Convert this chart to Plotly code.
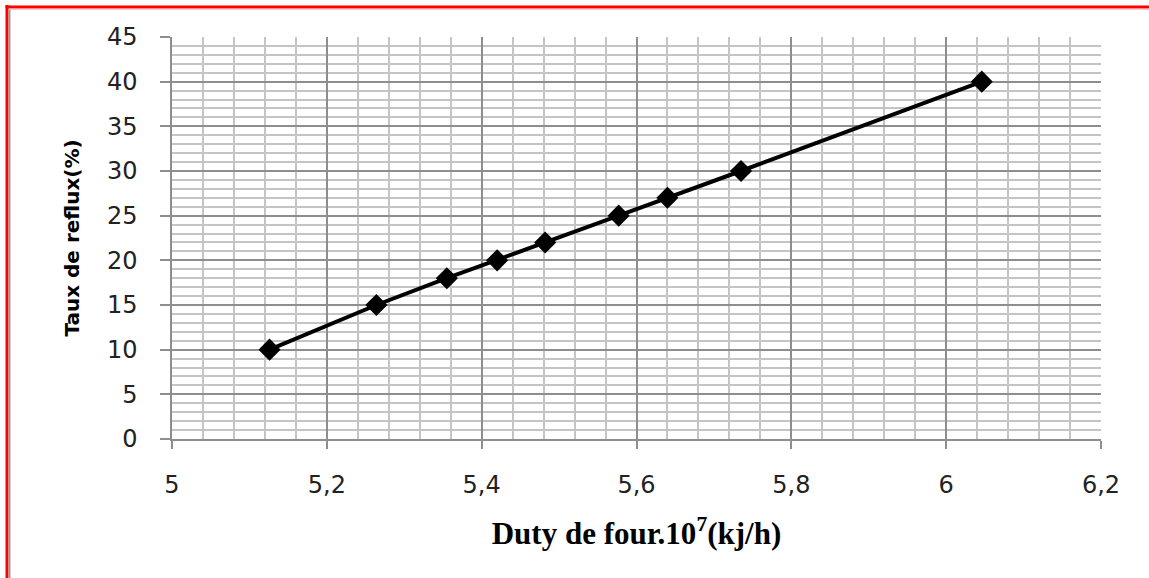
import plotly.graph_objects as go

# Data
duty = [5.126, 5.264, 5.355, 5.420, 5.482, 5.577, 5.640, 5.735, 6.046]
reflux = [10, 15, 18, 20, 22, 25, 27, 30, 40]
x_ticks = [5.0, 5.2, 5.4, 5.6, 5.8, 6.0, 6.2]
x_tick_labels = ["5", "5,2", "5,4", "5,6", "5,8", "6", "6,2"]
y_ticks = [0, 5, 10, 15, 20, 25, 30, 35, 40, 45]

W, H = 1149, 578
L, R, T, B = 172, 48, 37, 139
PW, PH = W - L - R, H - T - B


def px(x):
    return (x - L) / PW


def py(y):
    return (H - B - y) / PH


fig = go.Figure()
fig.add_trace(go.Scatter(
    x=duty, y=reflux, mode="lines+markers",
    line=dict(color="black", width=4),
    marker=dict(symbol="diamond", size=17, color="black"),
    showlegend=False, cliponaxis=False,
))

major_col = "#8e8e8e"
minor_col = "#c4c4c4"
tick_font = dict(family="DejaVu Sans", size=24, color="#222222")

fig.update_layout(
    width=W, height=H,
    margin=dict(l=L, r=R, t=T, b=B, pad=0),
    paper_bgcolor="white", plot_bgcolor="white",
    xaxis=dict(
        range=[5.0, 6.2], tickvals=x_ticks, ticktext=x_tick_labels,
        showgrid=True, gridcolor=major_col, gridwidth=1.5,
        showline=True, linecolor=major_col, linewidth=1.5,
        ticks="outside", ticklen=8, tickcolor=major_col, tickwidth=1.5,
        ticklabelstandoff=15, tickfont=tick_font, zeroline=False,
        minor=dict(dtick=0.04, tick0=5.0, showgrid=True, gridcolor=minor_col, gridwidth=1.5, ticklen=0),
        title=dict(text="Duty de four.10<sup>7</sup>(kj/h)",
                   font=dict(family="Liberation Serif", size=31, color="black", weight="bold"),
                   standoff=25),
    ),
    yaxis=dict(
        range=[0, 45], tickvals=y_ticks,
        showgrid=True, gridcolor=major_col, gridwidth=1.5,
        showline=True, linecolor=major_col, linewidth=1.5,
        ticks="outside", ticklen=10, tickcolor=major_col, tickwidth=1.5,
        ticklabelstandoff=18, tickfont=tick_font, zeroline=False,
        minor=dict(dtick=1, tick0=0, showgrid=True, gridcolor=minor_col, gridwidth=1.5, ticklen=0),
        title=dict(text="Taux de reflux(%)",
                   font=dict(family="DejaVu Sans", size=20, color="black", weight="bold"),
                   standoff=22),
    ),
    shapes=[
        dict(type="line", xref="paper", yref="paper", x0=px(7), x1=px(7), y0=py(5), y1=py(H),
             line=dict(color="#ff0000", width=3)),
        dict(type="line", xref="paper", yref="paper", x0=px(9.5), x1=px(9.5), y0=py(9), y1=py(H),
             line=dict(color="#999999", width=2)),
        dict(type="line", xref="paper", yref="paper", x0=px(5.5), x1=px(W), y0=py(7), y1=py(7),
             line=dict(color="#ff0000", width=3)),
        dict(type="line", xref="paper", yref="paper", x0=px(9), x1=px(W), y0=py(9.2), y1=py(9.2),
             line=dict(color="#f4b0b0", width=1)),
    ],
)

fig.write_html("out.html")
